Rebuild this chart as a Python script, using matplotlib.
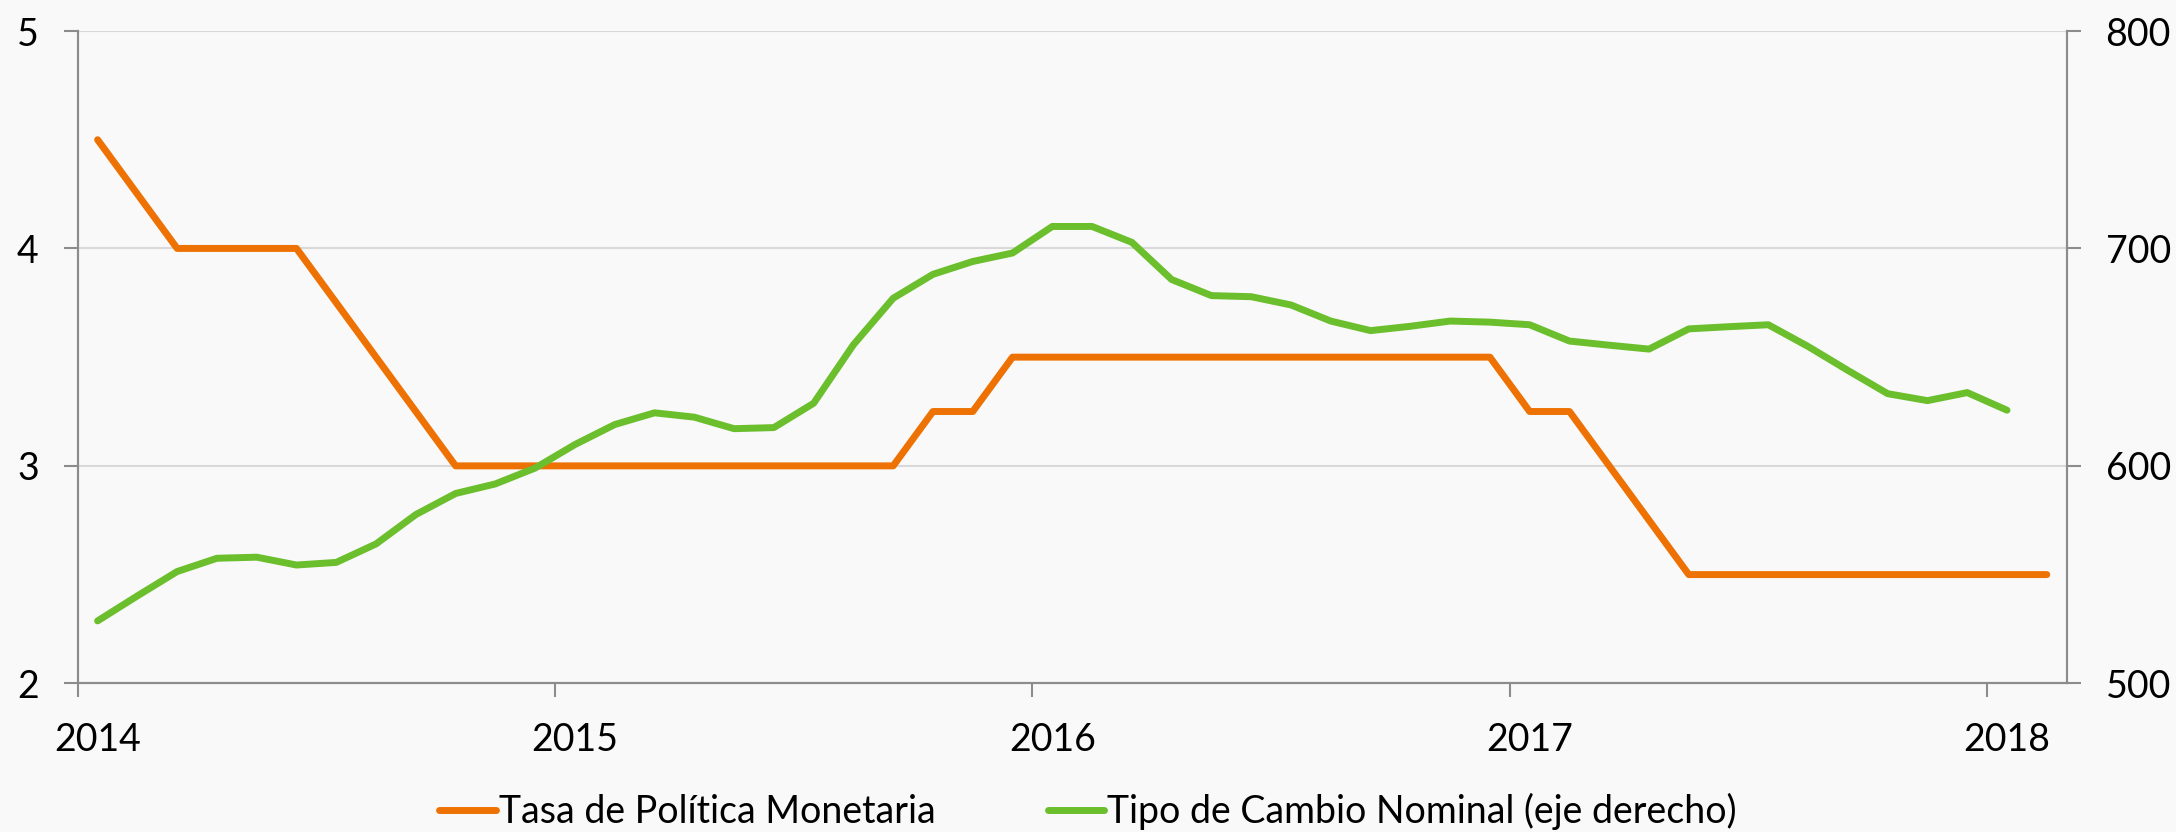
import numpy as np
import matplotlib
matplotlib.use('Agg')
import matplotlib.pyplot as plt
from matplotlib.lines import Line2D

plt.rcParams['font.family'] = ['Lato', 'DejaVu Sans']

# monthly data, Jan 2014 .. Feb 2018
year_labels = ['2014', '2015', '2016', '2017', '2018']
tpm = [4.5, 4.25, 4.0, 4.0, 4.0, 4.0, 3.75, 3.5, 3.25, 3.0, 3.0, 3.0,
       3.0, 3.0, 3.0, 3.0, 3.0, 3.0, 3.0, 3.0, 3.0, 3.25, 3.25, 3.5,
       3.5, 3.5, 3.5, 3.5, 3.5, 3.5, 3.5, 3.5, 3.5, 3.5, 3.5, 3.5,
       3.25, 3.25, 3.0, 2.75, 2.5, 2.5, 2.5, 2.5, 2.5, 2.5, 2.5, 2.5,
       2.5, 2.5]
tcn = [528.7, 540.2, 551.4, 557.5, 558.0, 554.4, 555.6, 564.1, 577.6, 587.3, 591.7, 599.0,
       609.8, 619.0, 624.4, 622.4, 617.1, 617.6, 628.8, 655.7, 677.1, 688.1, 694.0, 697.9,
       710.1, 710.1, 702.8, 685.7, 678.3, 677.8, 674.0, 666.6, 662.2, 664.2, 666.6, 666.1,
       664.9, 657.4, 655.5, 653.7, 663.0, 664.0, 664.9, 654.9, 643.9, 633.2, 630.0, 633.7,
       625.6]

orange = '#EE7203'
green = '#6BBE2C'
axcol = '#8C8C8C'
bg = '#F9F9F9'

fig = plt.figure(figsize=(21.76, 8.32), dpi=100, facecolor=bg)
ax = fig.add_axes([0.03571, 0.17873, 0.91406, 0.78401])
ax.set_facecolor(bg)
ax2 = ax.twinx()

x_tpm = np.arange(len(tpm))
x_tcn = np.arange(len(tcn))

ax.plot(x_tpm, tpm, color=orange, lw=5, solid_capstyle='round', solid_joinstyle='round')
ax2.plot(x_tcn, tcn, color=green, lw=5, solid_capstyle='round', solid_joinstyle='round')

ax.set_xlim(-0.5, len(tpm) - 0.5)
ax.set_ylim(2, 5)
ax2.set_ylim(500, 800)
ax.set_yticks([2, 3, 4, 5])
ax2.set_yticks([500, 600, 700, 800])

# year labels on the January category, ticks between categories
ax.set_xticks(np.arange(0, len(tpm), 12))
ax.set_xticklabels(year_labels)
ax.set_xticks(np.arange(-0.5, len(tpm), 12), minor=True)

ax.grid(axis='y', color='#D9D9D9', lw=1.5)
ax.set_axisbelow(True)

fs = 27
ax.tick_params(axis='x', which='major', length=0, pad=28, labelsize=fs)
ax.tick_params(axis='x', which='minor', length=10, width=1.5, color=axcol)
ax.tick_params(axis='y', length=10, width=1.5, color=axcol, pad=18, labelsize=fs)
ax2.tick_params(axis='y', length=10, width=1.5, color=axcol, pad=18, labelsize=fs)

for a in (ax, ax2):
    a.spines['top'].set_visible(False)
    for s in ('left', 'right', 'bottom'):
        a.spines[s].set_color(axcol)
        a.spines[s].set_linewidth(1.5)

handles = [Line2D([], [], color=orange, lw=5, solid_capstyle='round'),
           Line2D([], [], color=green, lw=5, solid_capstyle='round')]
fig.legend(handles, ['Tasa de Política Monetaria', 'Tipo de Cambio Nominal (eje derecho)'],
           loc='center', bbox_to_anchor=(0.5, 0.025), ncol=2, frameon=False,
           fontsize=fs, handlelength=1.5, handletextpad=0.08, columnspacing=3.0)

fig.savefig('out.png', dpi=100, facecolor=bg)
